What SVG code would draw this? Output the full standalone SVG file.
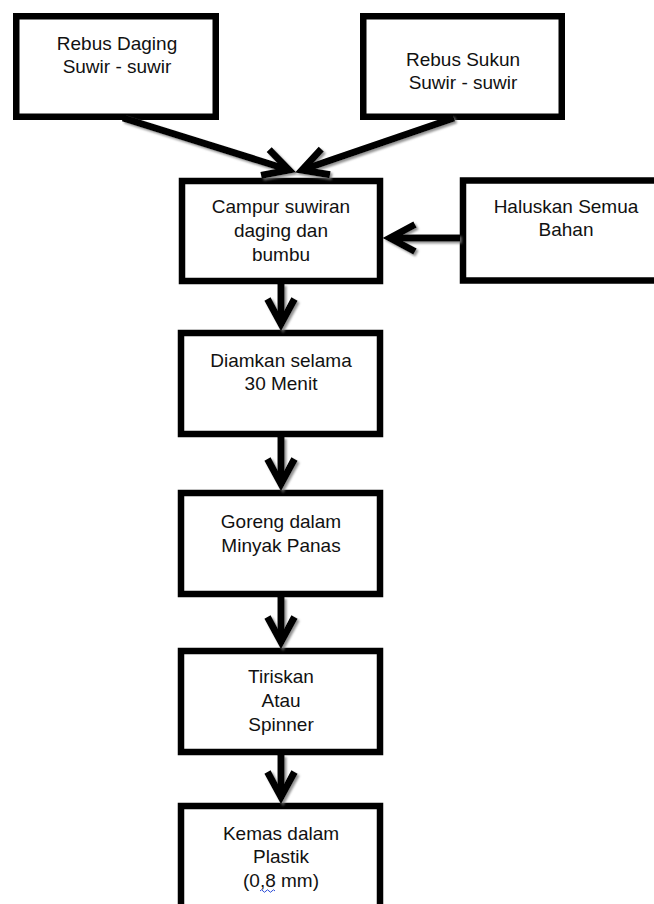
<svg xmlns="http://www.w3.org/2000/svg" width="654" height="904" viewBox="0 0 654 904">
<style>
.box{fill:#fff;stroke:#000;stroke-width:6.5}
.lbl{font-family:"Liberation Sans",Arial,sans-serif;font-size:19px;fill:#111;text-anchor:middle}
.conn{fill:none;stroke:#000;stroke-width:7}
</style>
<defs>
<marker id="chev" markerUnits="userSpaceOnUse" orient="auto" markerWidth="60" markerHeight="60" refX="0" refY="0" viewBox="-40 -30 60 60" overflow="visible">
<path d="M-25,-13.5 L0,0 L-25,13.5" fill="none" stroke="#000" stroke-width="7" stroke-linejoin="miter" stroke-miterlimit="10"/>
</marker>
<filter id="sh" x="-20%" y="-20%" width="140%" height="140%">
<feDropShadow dx="2" dy="2" stdDeviation="1" flood-color="#777" flood-opacity="0.8"/>
</filter>
</defs>
<rect width="654" height="904" fill="#fff"/>
<g id="n1"><rect class="box" x="16.25" y="16.25" width="199.5" height="100.5"/>
<text class="lbl" x="117" y="50">Rebus Daging</text><text class="lbl" x="117" y="73">Suwir - suwir</text></g>
<g id="n2"><rect class="box" x="363.25" y="16.25" width="198.5" height="100.5"/>
<text class="lbl" x="463" y="66">Rebus Sukun</text><text class="lbl" x="463" y="89">Suwir - suwir</text></g>
<g id="n3"><rect class="box" x="182" y="181" width="198" height="100"/>
<text class="lbl" x="281" y="213">Campur suwiran</text><text class="lbl" x="281" y="237">daging dan</text><text class="lbl" x="281" y="261">bumbu</text></g>
<g id="n4"><rect class="box" x="463" y="180.5" width="200" height="100"/>
<text class="lbl" x="566" y="213">Haluskan Semua</text><text class="lbl" x="566" y="236">Bahan</text></g>
<g id="n5"><rect class="box" x="181" y="333" width="199" height="101"/>
<text class="lbl" x="281" y="367">Diamkan selama</text><text class="lbl" x="281" y="390">30 Menit</text></g>
<g id="n6"><rect class="box" x="181" y="493" width="199" height="101"/>
<text class="lbl" x="281" y="528">Goreng dalam</text><text class="lbl" x="281" y="552">Minyak Panas</text></g>
<g id="n7"><rect class="box" x="181" y="651" width="199" height="101"/>
<text class="lbl" x="281" y="683">Tiriskan</text><text class="lbl" x="281" y="707">Atau</text><text class="lbl" x="281" y="731">Spinner</text></g>
<g id="n8"><rect class="box" x="181" y="806" width="199" height="110"/>
<text class="lbl" x="281" y="840">Kemas dalam</text><text class="lbl" x="281" y="863">Plastik</text><text class="lbl" x="281" y="887">(0,8 mm)</text>
<path d="M260,891 q1.5,-2.5 3,0 t3,0 t3,0 t3,0 t3,0" fill="none" stroke="#2a4bd7" stroke-width="1"/></g>
<g id="connectors" filter="url(#sh)">
<line class="conn" x1="123" y1="118" x2="289" y2="170" marker-end="url(#chev)"/>
<line class="conn" x1="454" y1="118" x2="302" y2="170" marker-end="url(#chev)"/>
<line class="conn" x1="460" y1="238" x2="390" y2="238" marker-end="url(#chev)"/>
<line class="conn" x1="281" y1="284" x2="281" y2="324" marker-end="url(#chev)"/>
<line class="conn" x1="281" y1="437" x2="281" y2="484" marker-end="url(#chev)"/>
<line class="conn" x1="281" y1="597" x2="281" y2="642" marker-end="url(#chev)"/>
<line class="conn" x1="281" y1="755" x2="281" y2="797" marker-end="url(#chev)"/>
</g>
</svg>
